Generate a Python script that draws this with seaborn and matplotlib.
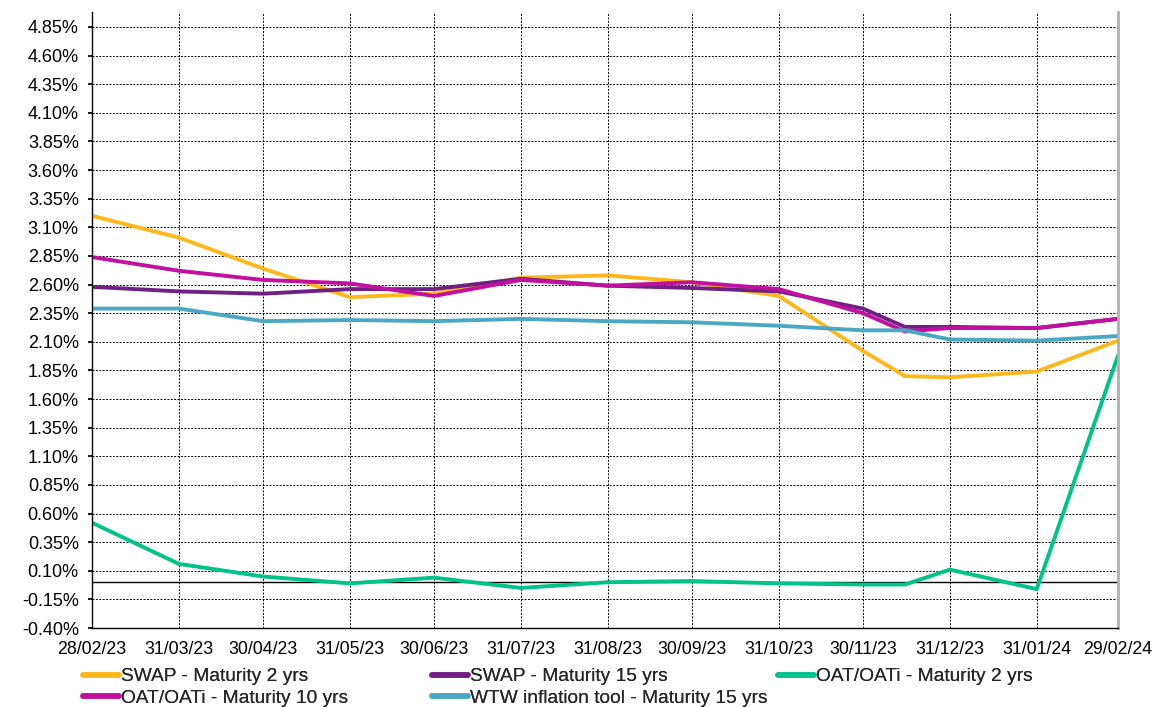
import numpy as np
import pandas as pd
import matplotlib.pyplot as plt
import matplotlib.dates as mdates
from matplotlib.ticker import FixedLocator, FuncFormatter
import seaborn as sns

# Dates des points (fin de mois + un point mi-décembre)
dates = ["2023-02-28", "2023-03-31", "2023-04-30", "2023-05-31", "2023-06-30",
         "2023-07-31", "2023-08-31", "2023-09-30", "2023-10-31", "2023-11-30",
         "2023-12-15", "2023-12-31", "2024-01-31", "2024-02-29"]

swap_2 = [3.20, 3.01, 2.74, 2.49, 2.52, 2.66, 2.68, 2.62, 2.50, 2.02, 1.80, 1.79, 1.84, 2.11]
swap_15 = [2.58, 2.54, 2.52, 2.56, 2.56, 2.65, 2.59, 2.57, 2.54, 2.39, 2.23, 2.23, 2.22, 2.30]
oat_2 = [0.52, 0.16, 0.05, -0.01, 0.04, -0.05, 0.00, 0.01, -0.01, -0.02, -0.02, 0.11, -0.06, 1.98]
oat_10 = [2.84, 2.72, 2.64, 2.61, 2.50, 2.64, 2.59, 2.62, 2.56, 2.35, 2.19, 2.22, 2.22, 2.30]
wtw_15 = [2.39, 2.39, 2.28, 2.29, 2.28, 2.30, 2.28, 2.27, 2.24, 2.20, 2.20, 2.12, 2.11, 2.15]

tick_dates = ["2023-02-28", "2023-03-31", "2023-04-30", "2023-05-31", "2023-06-30",
              "2023-07-31", "2023-08-31", "2023-09-30", "2023-10-31", "2023-11-30",
              "2023-12-31", "2024-01-31", "2024-02-29"]
y_ticks = [-0.40, -0.15, 0.10, 0.35, 0.60, 0.85, 1.10, 1.35, 1.60, 1.85, 2.10,
           2.35, 2.60, 2.85, 3.10, 3.35, 3.60, 3.85, 4.10, 4.35, 4.60, 4.85]

series = {
    "SWAP - Maturity 2 yrs": swap_2,
    "SWAP - Maturity 15 yrs": swap_15,
    "OAT/OATi - Maturity 2 yrs": oat_2,
    "OAT/OATi - Maturity 10 yrs": oat_10,
    "WTW inflation tool - Maturity 15 yrs": wtw_15,
}
colors = {
    "SWAP - Maturity 2 yrs": "#FFB81C",
    "SWAP - Maturity 15 yrs": "#702082",
    "OAT/OATi - Maturity 2 yrs": "#00C389",
    "OAT/OATi - Maturity 10 yrs": "#C110A0",
    "WTW inflation tool - Maturity 15 yrs": "#4BA8C4",
}

df = pd.DataFrame(series)
df["date"] = pd.to_datetime(dates)
long = df.melt(id_vars="date", var_name="serie", value_name="taux")

sns.set_theme(style="white")
plt.rcParams["font.family"] = ["Liberation Sans", "DejaVu Sans"]

fig = plt.figure(figsize=(11.58, 7.07), dpi=100)
ax = fig.add_axes([0.0794, 0.1117, 0.8861, 0.8713])

sns.lineplot(data=long, x="date", y="taux", hue="serie", hue_order=list(series),
             palette=colors, linewidth=2.8, ax=ax, legend=False)

ax.axhline(0, color="black", linewidth=1, zorder=1)

ax.set_xlim(pd.Timestamp("2023-02-28"), pd.Timestamp("2024-02-29"))
ax.set_ylim(-0.40, 4.98)
ax.yaxis.set_major_locator(FixedLocator(y_ticks))
ax.yaxis.set_major_formatter(FuncFormatter(lambda v, p: f"{v:.2f}%"))
ax.set_xticks(pd.to_datetime(tick_dates))
ax.xaxis.set_major_formatter(mdates.DateFormatter("%d/%m/%y"))
ax.tick_params(axis="both", colors="black", direction="out", left=True, bottom=True)
ax.tick_params(axis="y", labelsize=13, length=3, pad=6.5)
ax.tick_params(axis="x", labelsize=12.8, length=0, pad=9)
ax.grid(True, color="black", linestyle=(0, (2, 1.5)), linewidth=0.7)
ax.set_xlabel("")
ax.set_ylabel("")

for side in ["left", "bottom"]:
    ax.spines[side].set_color("black")
    ax.spines[side].set_linewidth(1)
ax.spines["top"].set_visible(False)
ax.spines["right"].set_color("#B0B0B0")
ax.spines["right"].set_linewidth(2)

# Légende : une colonne par appel, positions comme dans l'original
columns = [
    (83, ["SWAP - Maturity 2 yrs", "OAT/OATi - Maturity 10 yrs"]),
    (432, ["SWAP - Maturity 15 yrs", "WTW inflation tool - Maturity 15 yrs"]),
    (778, ["OAT/OATi - Maturity 2 yrs"]),
]
for x_px, labels in columns:
    handles = [plt.Line2D([], [], color=colors[k], linewidth=4) for k in labels]
    leg = fig.legend(handles, labels, loc="upper left",
                     bbox_to_anchor=(x_px / 1158, 1 - 668 / 707),
                     frameon=False, fontsize=13.8, handlelength=1.9,
                     handletextpad=0.1, labelspacing=0.22, borderpad=0,
                     borderaxespad=0)
    fig.add_artist(leg)

fig.savefig("out.png", dpi=100)
